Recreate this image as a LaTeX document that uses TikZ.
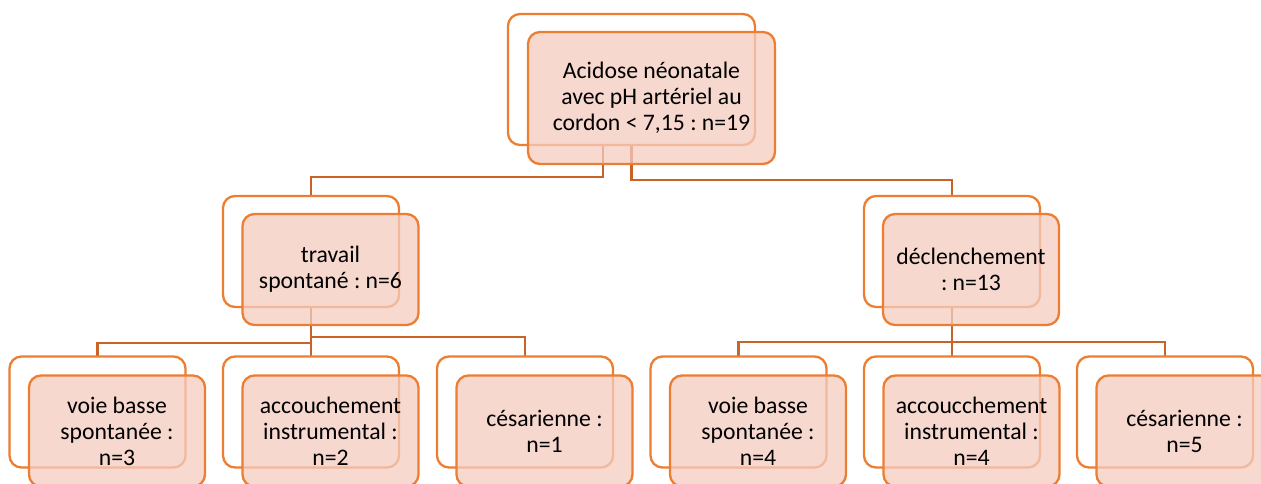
\documentclass[tikz,border=0pt]{standalone}
\usepackage{fontspec}
\setmainfont{Carlito}
\usepackage{tikz}
\usetikzlibrary{backgrounds}
\usepackage{xcolor}
\definecolor{boxline}{RGB}{237,125,49}
\definecolor{boxfill}{RGB}{244,204,191}
\definecolor{linkline}{RGB}{200,100,40}
\frenchspacing

\begin{document}
\begin{tikzpicture}[x=1pt, y=-1pt,
	backbox/.style={rectangle, rounded corners=12pt, draw=boxline, line width=2.3pt, fill=white, inner sep=0pt, outer sep=0pt, minimum width=176pt, minimum height=111pt},
	frontbox/.style={rectangle, rounded corners=12pt, draw=boxline, line width=2.3pt, fill=boxfill, fill opacity=0.75, text opacity=1, inner sep=0pt, outer sep=0pt, minimum width=176pt, minimum height=111pt, align=center, font=\fontsize{23.7pt}{26pt}\selectfont},
	link/.style={draw=linkline, line width=2.3pt}]
	\useasboundingbox (0,0) rectangle (1261,483);
	\clip (0,0) rectangle (1261,483);

	% top
	\node[backbox, minimum width=247pt, minimum height=131pt] (rootb) at (631.5,79.5) {};
	\node[frontbox, minimum width=247pt, minimum height=132pt] (root) at (651.5,98) {Acidose néonatale\\avec pH artériel au\\cordon < 7,15 : n=19};

	% middle
	\node[backbox] (travb) at (311,251.5) {};
	\node[frontbox] (trav) at (330.5,269.5) {travail\\spontané : n=6};
	\node[backbox] (declb) at (952,251.5) {};
	\node[frontbox] (decl) at (971,269.5) {déclenchement\\: n=13};

	% bottom
	\foreach \nm/\x/\txt in {vbA/97.5/{voie basse\\spontanée :\\n=3}, acA/311/{accouchement\\instrumental :\\n=2}, csA/525/{césarienne :\\n=1},
		vbB/738.5/{voie basse\\spontanée :\\n=4}, acB/952/{accoucchement\\instrumental :\\n=4}, csB/1165/{césarienne :\\n=5}}
	{
		\node[backbox] (\nm b) at (\x,412) {};
		\node[frontbox] (\nm) at ([shift={(19.5pt,-19pt)}]\nm b.center) {\txt};
	}

	\begin{scope}[on background layer]
		\draw[link] ([xshift=-28.5pt]rootb.south) -- ++(0,32) -| (travb.north);
		\draw[link] (rootb.south) -- ++(0,35) -| (declb.north);
		\draw[link] (travb.south) -- ++(0,36) -| (vbAb.north);
		\draw[link] (travb.south) -- (acAb.north);
		\draw[link] (travb.south) -- ++(0,30) -| (csAb.north);
		\draw[link] (declb.south) -- ++(0,35) -| (vbBb.north);
		\draw[link] (declb.south) -- (acBb.north);
		\draw[link] (declb.south) -- ++(0,35) -| (csBb.north);
	\end{scope}
\end{tikzpicture}
\end{document}
